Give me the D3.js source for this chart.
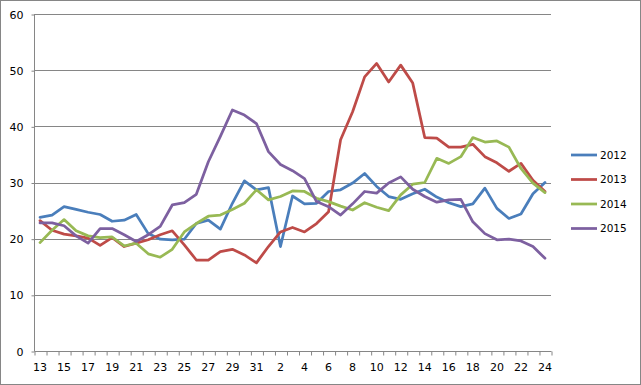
<!DOCTYPE html>
<html>
<head>
<meta charset="utf-8">
<script src="https://cdn.jsdelivr.net/npm/d3@7/dist/d3.min.js"></script>
<style>
  html, body { margin: 0; padding: 0; background: #fff; }
  svg { display: block; }
  text { font-family: "DejaVu Sans", sans-serif; fill: #000; }
</style>
</head>
<body>
<svg id="chart" width="641" height="385"></svg>
<script>
const categories = ["13","14","15","16","17","18","19","20","21","22","23","24","25","26","27","28","29","30","31",
  "1","2","3","4","5","6","7","8","9","10","11","12","13","14","15","16","17","18","19","20","21","22","23","24"];
const series2012 = [23.8,24.2,25.7,25.2,24.7,24.3,23.1,23.3,24.3,20.9,19.9,19.8,19.9,22.7,23.3,21.7,26.3,30.3,28.7,29.1,
  18.6,27.6,26.2,26.3,28.4,28.7,29.9,31.6,29.3,27.5,27.0,28.0,28.8,27.4,26.4,25.7,26.2,29.0,25.4,23.6,24.4,28.0,30.0];
const series2013 = [23.2,21.5,20.8,20.5,20.1,18.8,20.2,18.6,19.2,19.8,20.7,21.4,18.9,16.2,16.2,17.7,18.1,17.1,15.7,18.6,
  21.2,22.0,21.2,22.7,24.8,37.6,42.6,48.8,51.2,47.9,50.9,47.7,38.0,37.9,36.3,36.3,36.8,34.6,33.5,32.0,33.4,30.4,28.4];
const series2014 = [19.3,21.5,23.4,21.4,20.5,20.2,20.3,18.7,19.2,17.3,16.7,18.1,21.2,22.7,24.0,24.2,25.2,26.3,28.7,26.9,
  27.5,28.5,28.4,27.2,26.6,25.8,25.1,26.4,25.6,25.0,27.8,29.7,30.0,34.3,33.4,34.6,38.0,37.2,37.4,36.3,32.5,29.9,28.2];
const series2015 = [22.8,22.8,22.3,20.5,19.2,21.8,21.8,20.7,19.5,20.7,22.2,26.0,26.4,27.9,33.7,38.2,42.9,42.0,40.5,35.5,
  33.2,32.1,30.7,26.6,25.7,24.2,26.2,28.4,28.1,29.9,31.0,28.8,27.5,26.5,26.9,27.0,23.0,20.9,19.8,19.9,19.6,18.6,16.5];
const seriesNames = ["2012","2013","2014","2015"];
const seriesColors = ["#4A7EBB","#BE4B48","#98B954","#7D60A0"];
const yTicks = [0,10,20,30,40,50,60];

(function () {
const allSeries = [series2012, series2013, series2014, series2015];
const svg = d3.select("#chart");
const pLeft = 34, pRight = 551, pTop = 14, pBottom = 351;
const axisColor = "#868686";

// outer border
svg.append("rect").attr("x",0.5).attr("y",0.5).attr("width",640).attr("height",384)
  .attr("fill","#fff").attr("stroke",axisColor).attr("stroke-width",1);

const idx = d3.range(categories.length);
const x = d3.scaleBand().domain(idx).range([pLeft, pRight]).padding(0);
const xEdge = d3.scaleLinear().domain([0, categories.length]).range([pLeft, pRight]);
const y = d3.scaleLinear().domain([0, 60]).range([pBottom, pTop]);

// gridlines
svg.append("g").selectAll("line").data(yTicks.filter(t => t > 0)).join("line")
  .attr("x1", pLeft).attr("x2", pRight)
  .attr("y1", d => Math.round(y(d)) + 0.5).attr("y2", d => Math.round(y(d)) + 0.5)
  .attr("stroke", axisColor).attr("stroke-width", 1);

// y axis
const yAxis = svg.append("g").attr("transform", `translate(${pLeft + 0.5},0.5)`)
  .call(d3.axisLeft(y).tickValues(yTicks).tickSize(3).tickPadding(8).tickFormat(d3.format("d")));
yAxis.selectAll("path, line").attr("stroke", axisColor);
yAxis.select(".domain").attr("d", `M0,${pTop}V${pBottom}`);
yAxis.selectAll("text").attr("font-size", 11).attr("font-family", "DejaVu Sans");

// x axis ticks at category boundaries
const xTicks = svg.append("g").attr("transform", `translate(0.5,${pBottom + 0.5})`)
  .call(d3.axisBottom(xEdge).tickValues(d3.range(categories.length + 1)).tickSize(4).tickFormat(""));
xTicks.selectAll("path, line").attr("stroke", axisColor);
xTicks.select(".domain").attr("d", `M${pLeft},0H${pRight}`);

// x labels (every other category)
const xLab = svg.append("g").attr("transform", `translate(0,${pBottom})`)
  .call(d3.axisBottom(x).tickValues(idx.filter(i => i % 2 === 0)).tickSize(0).tickPadding(12)
    .tickFormat(i => categories[i]));
xLab.select(".domain").remove();
xLab.selectAll("text").attr("font-size", 11).attr("font-family", "DejaVu Sans");

// lines
const line = d3.line().x((d, i) => x(i) + x.bandwidth() / 2).y(d => y(d));
allSeries.forEach((s, k) => {
  svg.append("path").datum(s).attr("d", line)
    .attr("fill", "none").attr("stroke", seriesColors[k]).attr("stroke-width", 2.75)
    .attr("stroke-linejoin", "round").attr("stroke-linecap", "round");
});

// legend
const lg = svg.append("g");
seriesNames.forEach((n, k) => {
  const ly = 155 + k * 24.5;
  lg.append("line").attr("x1", 571).attr("x2", 597).attr("y1", ly).attr("y2", ly)
    .attr("stroke", seriesColors[k]).attr("stroke-width", 2.75);
  lg.append("text").attr("x", 600).attr("y", ly).attr("dy", "0.36em")
    .attr("font-size", 10.5).text(n);
});
})();
</script>
</body>
</html>
